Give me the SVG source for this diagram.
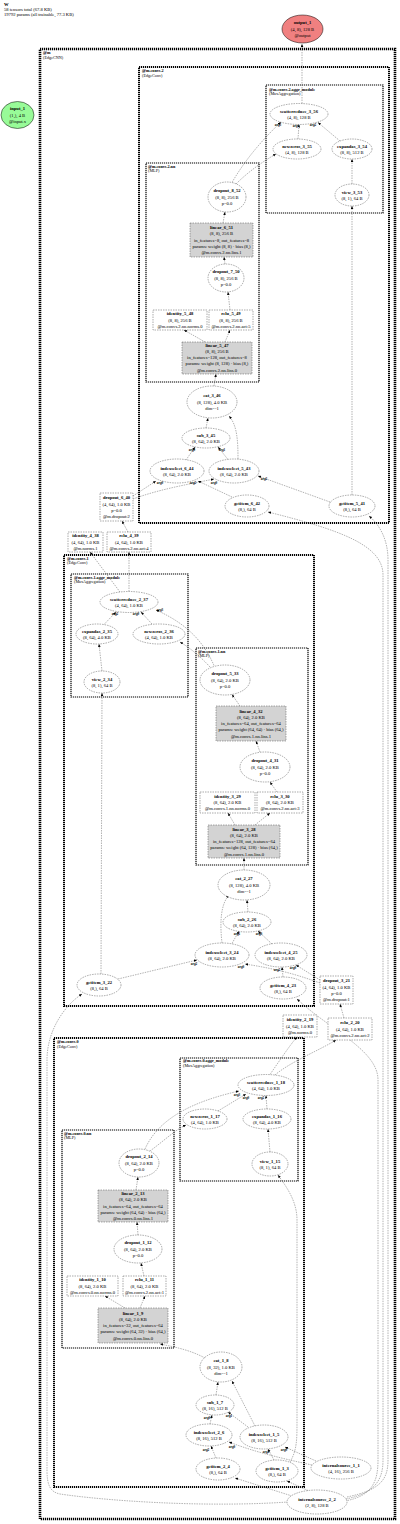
<svg xmlns="http://www.w3.org/2000/svg" width="400" height="1524" viewBox="0 0 400 1524">
<style>
text{font-family:"Liberation Serif","Times New Roman",serif;font-size:4.6px;fill:#000}
.t{text-anchor:middle}
.b{font-weight:bold}
.cl{font-size:4.2px}
.el{fill:#fff;stroke:#444;stroke-width:0.45;stroke-dasharray:1.5 1}
.bx{fill:#fff;stroke:#444;stroke-width:0.45;stroke-dasharray:1.5 1}
.lin{fill:#d3d3d3;stroke:#444;stroke-width:0.45;stroke-dasharray:1.5 1}
.c0{fill:none;stroke:#000;stroke-width:2.6;stroke-dasharray:1.2 0.8}
.c1{fill:none;stroke:#000;stroke-width:2;stroke-dasharray:1.2 0.8}
.c2{fill:none;stroke:#000;stroke-width:1.2;stroke-dasharray:1.2 0.8}
.e{fill:none;stroke:#555;stroke-width:0.45;stroke-dasharray:1.5 1;marker-end:url(#ah)}
.lb{font-size:3.3px;font-weight:bold;text-anchor:middle}
</style>
<defs>
<marker id="ah" markerUnits="userSpaceOnUse" markerWidth="4" markerHeight="4" refX="3" refY="1.3" orient="auto"><path d="M0,0 L3,1.3 L0,2.6 z" fill="#000"/></marker>
</defs>
<rect width="400" height="1524" fill="#fff"/>
<g id="header">
<text x="4" y="6" class="b">W</text>
<text x="4" y="10.8">58 tensors total (67.8 KB)</text>
<text x="4" y="15.5">19792 params (all trainable, 77.3 KB)</text>
</g>
<g id="clusters">
<rect class="c0" x="40" y="49" width="355" height="1470"/>
<text class="cl b" x="43" y="54">@m</text><text class="cl" x="43" y="58.5">(EdgeCNN)</text>
<rect class="c1" x="139" y="67" width="250" height="456"/>
<text class="cl b" x="142" y="72.3">@m.convs.2</text><text class="cl" x="142" y="76.8">(EdgeConv)</text>
<rect class="c2" x="266" y="85" width="117" height="128"/>
<text class="cl b" x="269" y="90.5">@m.convs.2.aggr_module</text><text class="cl" x="269" y="95">(MaxAggregation)</text>
<rect class="c2" x="146" y="163" width="113" height="219"/>
<text class="cl b" x="148" y="167.5">@m.convs.2.nn</text><text class="cl" x="148" y="172">(MLP)</text>
<rect class="c1" x="64" y="555" width="250" height="451"/>
<text class="cl b" x="67" y="559.5">@m.convs.1</text><text class="cl" x="67" y="564">(EdgeConv)</text>
<rect class="c2" x="71" y="574" width="117" height="123"/>
<text class="cl b" x="74" y="578.5">@m.convs.1.aggr_module</text><text class="cl" x="74" y="583">(MaxAggregation)</text>
<rect class="c2" x="196" y="648" width="112" height="217"/>
<text class="cl b" x="198" y="652.5">@m.convs.1.nn</text><text class="cl" x="198" y="657">(MLP)</text>
<rect class="c1" x="54" y="1038" width="250" height="449"/>
<text class="cl b" x="57" y="1043">@m.convs.0</text><text class="cl" x="57" y="1047.5">(EdgeConv)</text>
<rect class="c2" x="180" y="1058" width="118" height="123"/>
<text class="cl b" x="183" y="1062">@m.convs.0.aggr_module</text><text class="cl" x="183" y="1066.5">(MaxAggregation)</text>
<rect class="c2" x="62" y="1130" width="112" height="218"/>
<text class="cl b" x="64" y="1134.5">@m.convs.0.nn</text><text class="cl" x="64" y="1139">(MLP)</text>
</g>
<g id="connectors">
<path class="e" d="M302,103.5 L302,44"/>
<path class="e" d="M232,182.5 C245,160 262,140 281,122"/>
<path class="e" d="M236,184 C248,172 262,162 276,154"/>
<path class="e" d="M298,139 L299,124.5"/>
<path class="e" d="M352,184 L352,159"/>
<path class="e" d="M340,141 L318,122.5"/>
<path class="e" d="M223,223 L225,212"/>
<path class="e" d="M225,264 L224,257"/>
<path class="e" d="M230,310 L228,292"/>
<path class="e" d="M205,342 L184,330"/>
<path class="e" d="M225,342 L230,330"/>
<path class="e" d="M214,386 L216,374"/>
<path class="e" d="M206,428 L208,418"/>
<path class="e" d="M238,459 C238,440 237,425 229,416"/>
<path class="e" d="M186,460 L195,447"/>
<path class="e" d="M228,459.5 L218,447"/>
<path class="e" d="M133,496 L156,481"/>
<path class="e" d="M133,499 C160,489 190,484 214,479"/>
<path class="e" d="M232,497 L198,481"/>
<path class="e" d="M330,502 L258,476"/>
<path class="e" d="M352,495 L352,206"/>
<path class="e" d="M347,1497 C380,1490 388,1480 388,1460 L388,560 C388,540 380,525 369,516"/>
<path class="e" d="M346,1499 C375,1493 383,1480 383,1460 L383,575 C383,545 340,530 268,512"/>
<path class="e" d="M345,1501 C372,1496 378,1482 378,1460 L378,1080 C378,1050 330,1030 297,999"/>
<path class="e" d="M288,1502 C200,1508 100,1500 60,1494 C50,1492 47,1485 47,1470 L47,1060 C47,1030 65,1005 82,994"/>
<path class="e" d="M128,532 L122,521"/>
<path class="e" d="M129,591.5 L129,552"/>
<path class="e" d="M120,592 L90,552"/>
<path class="e" d="M152,624 L141,612"/>
<path class="e" d="M104,624.5 L116,612"/>
<path class="e" d="M102,671 L99,644"/>
<path class="e" d="M214,665.5 C205,645 190,625 156,610"/>
<path class="e" d="M210,667 C200,656 190,648 180,642"/>
<path class="e" d="M240,706 L232,694.5"/>
<path class="e" d="M260,752 L256,741"/>
<path class="e" d="M277,792 L270,782"/>
<path class="e" d="M235,825 L228,813"/>
<path class="e" d="M255,825 L270,813"/>
<path class="e" d="M244,870 L244,858"/>
<path class="e" d="M248,912 L247,900"/>
<path class="e" d="M222,943 C220,925 220,905 229,895"/>
<path class="e" d="M232,943.5 L239,931"/>
<path class="e" d="M272,944 L258,931"/>
<path class="e" d="M320,980 L296,965"/>
<path class="e" d="M320,983 C290,972 270,968 245,964"/>
<path class="e" d="M283,977 L282,967"/>
<path class="e" d="M118,979 L197,960"/>
<path class="e" d="M101,974 L102,693"/>
<path class="e" d="M344,1018 L340,1004"/>
<path class="e" d="M270,1074.5 C280,1060 290,1045 297,1037"/>
<path class="e" d="M275,1075 C290,1062 320,1050 336,1040"/>
<path class="e" d="M145,1149 C160,1115 200,1100 239,1091"/>
<path class="e" d="M150,1151 C165,1140 175,1130 186,1125"/>
<path class="e" d="M218,1111 L246,1094"/>
<path class="e" d="M267,1109 L266,1095.5"/>
<path class="e" d="M270,1152 L268,1129"/>
<path class="e" d="M290,1462 C297,1450 297,1440 297,1420 L297,1220 C297,1200 285,1185 278,1175"/>
<path class="e" d="M136,1190 L138,1177"/>
<path class="e" d="M138,1235 L137,1222"/>
<path class="e" d="M144,1276 L141,1263"/>
<path class="e" d="M125,1308 L105,1296"/>
<path class="e" d="M140,1308 L145,1296"/>
<path class="e" d="M205,1358 C190,1350 175,1347 160,1344"/>
<path class="e" d="M216,1395 L218,1382"/>
<path class="e" d="M255,1426 L232,1381"/>
<path class="e" d="M210,1424 L212,1415"/>
<path class="e" d="M248,1427 L228,1412"/>
<path class="e" d="M216,1458 L211,1446"/>
<path class="e" d="M274,1460 L268,1449"/>
<path class="e" d="M316,1461 L285,1447"/>
<path class="e" d="M312,1465 C280,1458 255,1452 229,1442"/>
<path class="e" d="M308,1490.5 L287,1481"/>
<path class="e" d="M292,1496 L235,1478"/>
<text class="lb" x="278" y="126">arg3</text>
<text class="lb" x="296" y="127">arg0</text>
<text class="lb" x="313" y="126">arg2</text>
<text class="lb" x="192" y="451">arg0</text>
<text class="lb" x="222" y="451">arg1</text>
<text class="lb" x="160" y="484">arg0</text>
<text class="lb" x="193" y="484">arg2</text>
<text class="lb" x="214" y="484">arg0</text>
<text class="lb" x="264" y="480">arg2</text>
<text class="lb" x="115" y="615">arg2</text>
<text class="lb" x="136" y="615">arg0</text>
<text class="lb" x="160" y="611">arg3</text>
<text class="lb" x="237" y="935">arg1</text>
<text class="lb" x="259" y="935">arg0</text>
<text class="lb" x="194" y="965">arg2</text>
<text class="lb" x="241" y="968">arg0</text>
<text class="lb" x="277" y="971">arg2</text>
<text class="lb" x="293" y="969">arg0</text>
<text class="lb" x="237" y="1096">arg3</text>
<text class="lb" x="246" y="1099">arg0</text>
<text class="lb" x="261" y="1099">arg2</text>
<text class="lb" x="207" y="1419">arg0</text>
<text class="lb" x="229" y="1417">arg1</text>
<text class="lb" x="206" y="1451">arg2</text>
<text class="lb" x="232" y="1448">arg0</text>
<text class="lb" x="266" y="1453">arg2</text>
<text class="lb" x="284" y="1451">arg0</text>
</g>
<g id="input_1"><ellipse cx="17.5" cy="115" rx="16.5" ry="13.5" fill="#98fb98" stroke="#000" stroke-width="0.5"/><text class="t" x="17.5" y="110.4"><tspan class="b">input_1</tspan><tspan x="17.5" dy="6.2">(1,), 4 B</tspan><tspan x="17.5" dy="6.2">@input.x</tspan></text></g>
<g id="output_1"><ellipse cx="302.5" cy="29" rx="20.5" ry="14" fill="#f08080" stroke="#000" stroke-width="0.5"/><text class="t" x="302.5" y="24.4"><tspan class="b">output_1</tspan><tspan x="302.5" dy="6.2">(4, 8), 128 B</tspan><tspan x="302.5" dy="6.2">@output</tspan></text></g>
<g id="scatterreduce_3_56"><ellipse class="el" cx="299" cy="114" rx="29" ry="10.5"/><text class="t" x="299" y="112.5"><tspan class="b">scatterreduce_3_56</tspan><tspan x="299" dy="6.2">(4, 8), 128 B</tspan></text></g>
<g id="newzeros_3_55"><ellipse class="el" cx="297" cy="149" rx="24" ry="10"/><text class="t" x="297" y="147.5"><tspan class="b">newzeros_3_55</tspan><tspan x="297" dy="6.2">(4, 8), 128 B</tspan></text></g>
<g id="expandas_3_54"><ellipse class="el" cx="352" cy="149" rx="20" ry="10"/><text class="t" x="352" y="147.5"><tspan class="b">expandas_3_54</tspan><tspan x="352" dy="6.2">(8, 8), 512 B</tspan></text></g>
<g id="view_3_53"><ellipse class="el" cx="352" cy="195" rx="17" ry="11"/><text class="t" x="352" y="193.5"><tspan class="b">view_3_53</tspan><tspan x="352" dy="6.2">(8, 1), 64 B</tspan></text></g>
<g id="dropout_8_52"><ellipse class="el" cx="227" cy="197" rx="19" ry="15"/><text class="t" x="227" y="192.4"><tspan class="b">dropout_8_52</tspan><tspan x="227" dy="6.2">(8, 8), 256 B</tspan><tspan x="227" dy="6.2">p=0.0</tspan></text></g>
<g id="linear_6_51"><rect class="lin" x="190" y="223" width="63" height="34"/><text class="t" x="221.5" y="229.2"><tspan class="b">linear_6_51</tspan><tspan x="221.5" dy="6.2">(8, 8), 256 B</tspan><tspan x="221.5" dy="6.2">in_features=8, out_features=8</tspan><tspan x="221.5" dy="6.2">params: weight (8, 8) · bias (8,)</tspan><tspan x="221.5" dy="6.2">@m.convs.2.nn.lins.1</tspan></text></g>
<g id="dropout_7_50"><ellipse class="el" cx="226" cy="278" rx="18" ry="14"/><text class="t" x="226" y="273.4"><tspan class="b">dropout_7_50</tspan><tspan x="226" dy="6.2">(8, 8), 256 B</tspan><tspan x="226" dy="6.2">p=0.0</tspan></text></g>
<g id="identity_5_48"><rect class="bx" x="153" y="310" width="54" height="20"/><text class="t" x="180" y="315.4"><tspan class="b">identity_5_48</tspan><tspan x="180" dy="6.2">(8, 8), 256 B</tspan><tspan x="180" dy="6.2">@m.convs.2.nn.norms.0</tspan></text></g>
<g id="relu_5_49"><rect class="bx" x="209" y="310" width="44" height="20"/><text class="t" x="231" y="315.4"><tspan class="b">relu_5_49</tspan><tspan x="231" dy="6.2">(8, 8), 256 B</tspan><tspan x="231" dy="6.2">@m.convs.2.nn.act:5</tspan></text></g>
<g id="linear_5_47"><rect class="lin" x="182" y="342" width="70" height="32"/><text class="t" x="217" y="346.8"><tspan class="b">linear_5_47</tspan><tspan x="217" dy="6.2">(8, 8), 256 B</tspan><tspan x="217" dy="6.2">in_features=128, out_features=8</tspan><tspan x="217" dy="6.2">params: weight (8, 128) · bias (8,)</tspan><tspan x="217" dy="6.2">@m.convs.2.nn.lins.0</tspan></text></g>
<g id="cat_3_46"><ellipse class="el" cx="212" cy="402" rx="25" ry="16"/><text class="t" x="212" y="397.4"><tspan class="b">cat_3_46</tspan><tspan x="212" dy="6.2">(8, 128), 4.0 KB</tspan><tspan x="212" dy="6.2">dim=-1</tspan></text></g>
<g id="sub_3_45"><ellipse class="el" cx="206" cy="438" rx="24" ry="10"/><text class="t" x="206" y="436.5"><tspan class="b">sub_3_45</tspan><tspan x="206" dy="6.2">(8, 64), 2.0 KB</tspan></text></g>
<g id="indexselect_6_44"><ellipse class="el" cx="177" cy="471" rx="27" ry="12"/><text class="t" x="177" y="469.5"><tspan class="b">indexselect_6_44</tspan><tspan x="177" dy="6.2">(8, 64), 2.0 KB</tspan></text></g>
<g id="indexselect_5_43"><ellipse class="el" cx="234" cy="471" rx="25" ry="12"/><text class="t" x="234" y="469.5"><tspan class="b">indexselect_5_43</tspan><tspan x="234" dy="6.2">(8, 64), 2.0 KB</tspan></text></g>
<g id="getitem_6_42"><ellipse class="el" cx="247" cy="506" rx="22" ry="11"/><text class="t" x="247" y="504.5"><tspan class="b">getitem_6_42</tspan><tspan x="247" dy="6.2">(8,), 64 B</tspan></text></g>
<g id="getitem_5_41"><ellipse class="el" cx="352" cy="506" rx="23" ry="11"/><text class="t" x="352" y="504.5"><tspan class="b">getitem_5_41</tspan><tspan x="352" dy="6.2">(8,), 64 B</tspan></text></g>
<g id="dropout_6_40"><rect class="bx" x="100" y="493" width="33" height="28"/><text class="t" x="116.5" y="499.3"><tspan class="b">dropout_6_40</tspan><tspan x="116.5" dy="6.2">(4, 64), 1.0 KB</tspan><tspan x="116.5" dy="6.2">p=0.0</tspan><tspan x="116.5" dy="6.2">@m.dropout:2</tspan></text></g>
<g id="identity_4_38"><rect class="bx" x="68" y="532" width="35" height="20"/><text class="t" x="85.5" y="537.4"><tspan class="b">identity_4_38</tspan><tspan x="85.5" dy="6.2">(4, 64), 1.0 KB</tspan><tspan x="85.5" dy="6.2">@m.norms.1</tspan></text></g>
<g id="relu_4_39"><rect class="bx" x="107" y="532" width="44" height="20"/><text class="t" x="129" y="537.4"><tspan class="b">relu_4_39</tspan><tspan x="129" dy="6.2">(4, 64), 1.0 KB</tspan><tspan x="129" dy="6.2">@m.convs.2.nn.act:4</tspan></text></g>
<g id="scatterreduce_2_37"><ellipse class="el" cx="129" cy="602" rx="29" ry="10.5"/><text class="t" x="129" y="600.5"><tspan class="b">scatterreduce_2_37</tspan><tspan x="129" dy="6.2">(4, 64), 1.0 KB</tspan></text></g>
<g id="expandas_2_35"><ellipse class="el" cx="97" cy="634" rx="21" ry="10"/><text class="t" x="97" y="632.5"><tspan class="b">expandas_2_35</tspan><tspan x="97" dy="6.2">(8, 64), 4.0 KB</tspan></text></g>
<g id="newzeros_2_36"><ellipse class="el" cx="159" cy="634" rx="26" ry="10"/><text class="t" x="159" y="632.5"><tspan class="b">newzeros_2_36</tspan><tspan x="159" dy="6.2">(4, 64), 1.0 KB</tspan></text></g>
<g id="view_2_34"><ellipse class="el" cx="102" cy="682" rx="18" ry="11"/><text class="t" x="102" y="680.5"><tspan class="b">view_2_34</tspan><tspan x="102" dy="6.2">(8, 1), 64 B</tspan></text></g>
<g id="dropout_5_33"><ellipse class="el" cx="225" cy="680" rx="25" ry="15"/><text class="t" x="225" y="675.4"><tspan class="b">dropout_5_33</tspan><tspan x="225" dy="6.2">(8, 64), 2.0 KB</tspan><tspan x="225" dy="6.2">p=0.0</tspan></text></g>
<g id="linear_4_32"><rect class="lin" x="216" y="706" width="70" height="35"/><text class="t" x="251" y="712.7"><tspan class="b">linear_4_32</tspan><tspan x="251" dy="6.2">(8, 64), 2.0 KB</tspan><tspan x="251" dy="6.2">in_features=64, out_features=64</tspan><tspan x="251" dy="6.2">params: weight (64, 64) · bias (64,)</tspan><tspan x="251" dy="6.2">@m.convs.1.nn.lins.1</tspan></text></g>
<g id="dropout_4_31"><ellipse class="el" cx="265" cy="767" rx="25" ry="15"/><text class="t" x="265" y="762.4"><tspan class="b">dropout_4_31</tspan><tspan x="265" dy="6.2">(8, 64), 2.0 KB</tspan><tspan x="265" dy="6.2">p=0.0</tspan></text></g>
<g id="identity_3_29"><rect class="bx" x="200" y="792" width="55" height="21"/><text class="t" x="227.5" y="797.9"><tspan class="b">identity_3_29</tspan><tspan x="227.5" dy="6.2">(8, 64), 2.0 KB</tspan><tspan x="227.5" dy="6.2">@m.convs.1.nn.norms.0</tspan></text></g>
<g id="relu_3_30"><rect class="bx" x="257" y="792" width="46" height="21"/><text class="t" x="280" y="797.9"><tspan class="b">relu_3_30</tspan><tspan x="280" dy="6.2">(8, 64), 2.0 KB</tspan><tspan x="280" dy="6.2">@m.convs.2.nn.act:3</tspan></text></g>
<g id="linear_3_28"><rect class="lin" x="208" y="825" width="72" height="33"/><text class="t" x="244" y="830.7"><tspan class="b">linear_3_28</tspan><tspan x="244" dy="6.2">(8, 64), 2.0 KB</tspan><tspan x="244" dy="6.2">in_features=128, out_features=64</tspan><tspan x="244" dy="6.2">params: weight (64, 128) · bias (64,)</tspan><tspan x="244" dy="6.2">@m.convs.1.nn.lins.0</tspan></text></g>
<g id="cat_2_27"><ellipse class="el" cx="244" cy="885" rx="26" ry="15"/><text class="t" x="244" y="880.4"><tspan class="b">cat_2_27</tspan><tspan x="244" dy="6.2">(8, 128), 4.0 KB</tspan><tspan x="244" dy="6.2">dim=-1</tspan></text></g>
<g id="sub_2_26"><ellipse class="el" cx="247" cy="922" rx="24" ry="10"/><text class="t" x="247" y="920.5"><tspan class="b">sub_2_26</tspan><tspan x="247" dy="6.2">(8, 64), 2.0 KB</tspan></text></g>
<g id="indexselect_3_24"><ellipse class="el" cx="222" cy="955" rx="27" ry="12"/><text class="t" x="222" y="953.5"><tspan class="b">indexselect_3_24</tspan><tspan x="222" dy="6.2">(8, 64), 2.0 KB</tspan></text></g>
<g id="indexselect_4_25"><ellipse class="el" cx="281" cy="955" rx="26" ry="12"/><text class="t" x="281" y="953.5"><tspan class="b">indexselect_4_25</tspan><tspan x="281" dy="6.2">(8, 64), 2.0 KB</tspan></text></g>
<g id="getitem_4_23"><ellipse class="el" cx="283" cy="988" rx="23" ry="11"/><text class="t" x="283" y="986.5"><tspan class="b">getitem_4_23</tspan><tspan x="283" dy="6.2">(8,), 64 B</tspan></text></g>
<g id="getitem_3_22"><ellipse class="el" cx="99" cy="985" rx="22" ry="11"/><text class="t" x="99" y="983.5"><tspan class="b">getitem_3_22</tspan><tspan x="99" dy="6.2">(8,), 64 B</tspan></text></g>
<g id="dropout_3_21"><rect class="bx" x="320" y="976" width="33" height="28"/><text class="t" x="336.5" y="982.3"><tspan class="b">dropout_3_21</tspan><tspan x="336.5" dy="6.2">(4, 64), 1.0 KB</tspan><tspan x="336.5" dy="6.2">p=0.0</tspan><tspan x="336.5" dy="6.2">@m.dropout:1</tspan></text></g>
<g id="identity_2_19"><rect class="bx" x="283" y="1015" width="34" height="22"/><text class="t" x="300" y="1021.4"><tspan class="b">identity_2_19</tspan><tspan x="300" dy="6.2">(4, 64), 1.0 KB</tspan><tspan x="300" dy="6.2">@m.norms.0</tspan></text></g>
<g id="relu_2_20"><rect class="bx" x="328" y="1018" width="44" height="22"/><text class="t" x="350" y="1024.4"><tspan class="b">relu_2_20</tspan><tspan x="350" dy="6.2">(4, 64), 1.0 KB</tspan><tspan x="350" dy="6.2">@m.convs.2.nn.act:2</tspan></text></g>
<g id="scatterreduce_1_18"><ellipse class="el" cx="266" cy="1085" rx="28" ry="10.5"/><text class="t" x="266" y="1083.5"><tspan class="b">scatterreduce_1_18</tspan><tspan x="266" dy="6.2">(4, 64), 1.0 KB</tspan></text></g>
<g id="newzeros_1_17"><ellipse class="el" cx="205" cy="1119" rx="22" ry="10"/><text class="t" x="205" y="1117.5"><tspan class="b">newzeros_1_17</tspan><tspan x="205" dy="6.2">(4, 64), 1.0 KB</tspan></text></g>
<g id="expandas_1_16"><ellipse class="el" cx="267" cy="1119" rx="24" ry="10"/><text class="t" x="267" y="1117.5"><tspan class="b">expandas_1_16</tspan><tspan x="267" dy="6.2">(8, 64), 4.0 KB</tspan></text></g>
<g id="view_1_15"><ellipse class="el" cx="270" cy="1164" rx="18" ry="12"/><text class="t" x="270" y="1162.5"><tspan class="b">view_1_15</tspan><tspan x="270" dy="6.2">(8, 1), 64 B</tspan></text></g>
<g id="dropout_2_14"><ellipse class="el" cx="139" cy="1163" rx="20" ry="14"/><text class="t" x="139" y="1158.4"><tspan class="b">dropout_2_14</tspan><tspan x="139" dy="6.2">(8, 64), 2.0 KB</tspan><tspan x="139" dy="6.2">p=0.0</tspan></text></g>
<g id="linear_2_13"><rect class="lin" x="98" y="1190" width="70" height="32"/><text class="t" x="133" y="1195.2"><tspan class="b">linear_2_13</tspan><tspan x="133" dy="6.2">(8, 64), 2.0 KB</tspan><tspan x="133" dy="6.2">in_features=64, out_features=64</tspan><tspan x="133" dy="6.2">params: weight (64, 64) · bias (64,)</tspan><tspan x="133" dy="6.2">@m.convs.0.nn.lins.1</tspan></text></g>
<g id="dropout_1_12"><ellipse class="el" cx="138" cy="1249" rx="24" ry="14"/><text class="t" x="138" y="1244.4"><tspan class="b">dropout_1_12</tspan><tspan x="138" dy="6.2">(8, 64), 2.0 KB</tspan><tspan x="138" dy="6.2">p=0.0</tspan></text></g>
<g id="identity_1_10"><rect class="bx" x="67" y="1276" width="51" height="20"/><text class="t" x="92.5" y="1281.4"><tspan class="b">identity_1_10</tspan><tspan x="92.5" dy="6.2">(8, 64), 2.0 KB</tspan><tspan x="92.5" dy="6.2">@m.convs.0.nn.norms.0</tspan></text></g>
<g id="relu_1_11"><rect class="bx" x="123" y="1276" width="43" height="20"/><text class="t" x="144.5" y="1281.4"><tspan class="b">relu_1_11</tspan><tspan x="144.5" dy="6.2">(8, 64), 2.0 KB</tspan><tspan x="144.5" dy="6.2">@m.convs.2.nn.act:1</tspan></text></g>
<g id="linear_1_9"><rect class="lin" x="98" y="1308" width="70" height="35"/><text class="t" x="133" y="1314.7"><tspan class="b">linear_1_9</tspan><tspan x="133" dy="6.2">(8, 64), 2.0 KB</tspan><tspan x="133" dy="6.2">in_features=32, out_features=64</tspan><tspan x="133" dy="6.2">params: weight (64, 32) · bias (64,)</tspan><tspan x="133" dy="6.2">@m.convs.0.nn.lins.0</tspan></text></g>
<g id="cat_1_8"><ellipse class="el" cx="221" cy="1367" rx="21" ry="15"/><text class="t" x="221" y="1362.4"><tspan class="b">cat_1_8</tspan><tspan x="221" dy="6.2">(8, 32), 1.0 KB</tspan><tspan x="221" dy="6.2">dim=-1</tspan></text></g>
<g id="sub_1_7"><ellipse class="el" cx="215" cy="1405" rx="19" ry="10"/><text class="t" x="215" y="1403.5"><tspan class="b">sub_1_7</tspan><tspan x="215" dy="6.2">(8, 16), 512 B</tspan></text></g>
<g id="indexselect_2_6"><ellipse class="el" cx="209" cy="1435" rx="23" ry="11"/><text class="t" x="209" y="1433.5"><tspan class="b">indexselect_2_6</tspan><tspan x="209" dy="6.2">(8, 16), 512 B</tspan></text></g>
<g id="indexselect_1_5"><ellipse class="el" cx="264" cy="1437" rx="24" ry="12"/><text class="t" x="264" y="1435.5"><tspan class="b">indexselect_1_5</tspan><tspan x="264" dy="6.2">(8, 16), 512 B</tspan></text></g>
<g id="getitem_2_4"><ellipse class="el" cx="218" cy="1469" rx="22" ry="11"/><text class="t" x="218" y="1467.5"><tspan class="b">getitem_2_4</tspan><tspan x="218" dy="6.2">(8,), 64 B</tspan></text></g>
<g id="getitem_1_3"><ellipse class="el" cx="277" cy="1471" rx="21" ry="11"/><text class="t" x="277" y="1469.5"><tspan class="b">getitem_1_3</tspan><tspan x="277" dy="6.2">(8,), 64 B</tspan></text></g>
<g id="internalsource_1_1"><ellipse class="el" cx="341" cy="1468" rx="30" ry="11"/><text class="t" x="341" y="1466.5"><tspan class="b">internalsource_1_1</tspan><tspan x="341" dy="6.2">(4, 16), 256 B</tspan></text></g>
<g id="internalsource_2_2"><ellipse class="el" cx="317" cy="1502" rx="30" ry="12"/><text class="t" x="317" y="1500.5"><tspan class="b">internalsource_2_2</tspan><tspan x="317" dy="6.2">(2, 8), 128 B</tspan></text></g>
</svg>
